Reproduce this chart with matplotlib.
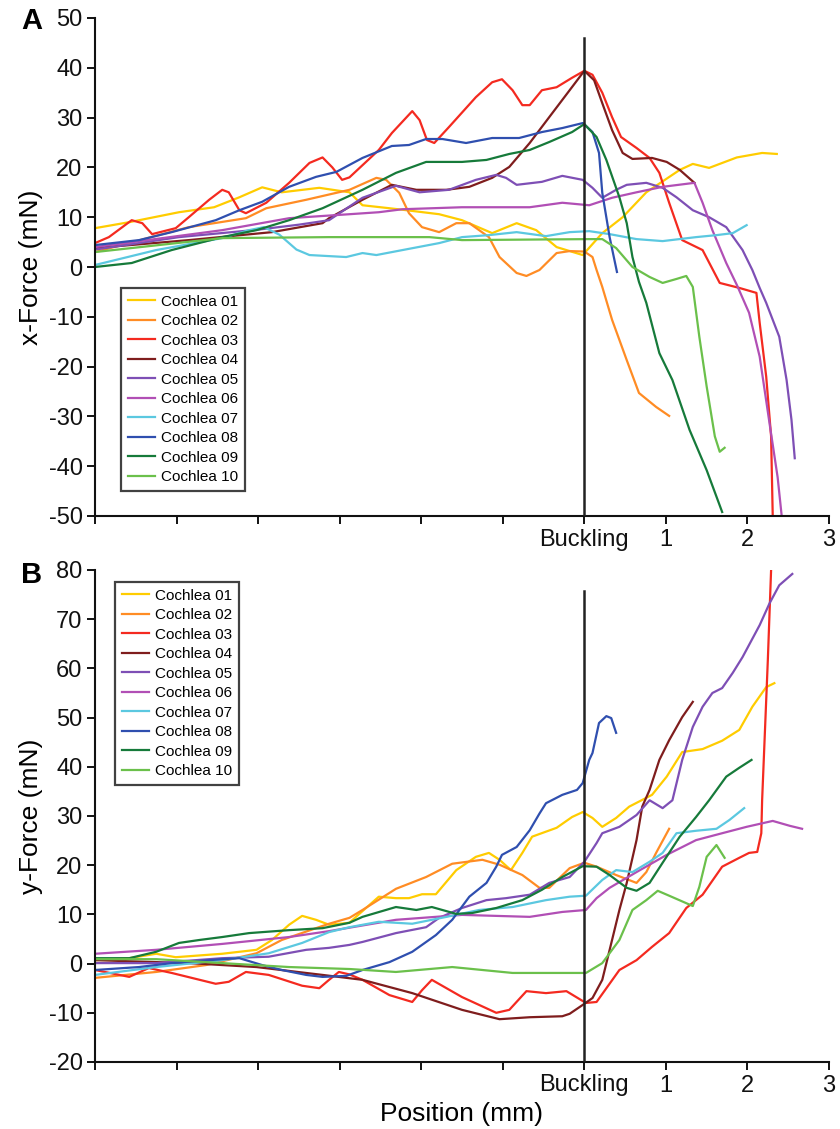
import matplotlib
matplotlib.use('Agg')
import matplotlib.pyplot as plt

plt.rcParams['font.family'] = ['Liberation Sans', 'DejaVu Sans']
plt.rcParams['axes.unicode_minus'] = False

# ---------------- data ----------------
names = ['Cochlea 01', 'Cochlea 02', 'Cochlea 03', 'Cochlea 04', 'Cochlea 05',
         'Cochlea 06', 'Cochlea 07', 'Cochlea 08', 'Cochlea 09', 'Cochlea 10']
colors = ['#FFCC00', '#FF8C24', '#F42A20', '#7F1D1D', '#7E4FB5',
          '#B14FB5', '#5BC8E0', '#2F4FAF', '#167A3A', '#6BC04B']

x_ticks = [-6, -5, -4, -3, -2, -1, 0, 1, 2, 3]
x_ticklabels = ['', '', '', '', '', '', 'Buckling', '1', '2', '3']
yA_ticks = [-50, -40, -30, -20, -10, 0, 10, 20, 30, 40, 50]
yB_ticks = [-20, -10, 0, 10, 20, 30, 40, 50, 60, 70, 80]

# Panel A : x-force
A01_x = [-6.0,-5.58,-4.97,-4.54,-4.23,-3.95,-3.71,-3.25,-2.88,-2.72,-2.39,-2.18,-1.78,-1.50,-1.13,-0.83,-0.59,-0.34,-0.02,0.22,0.47,0.76,1.17,1.33,1.53,1.87,2.18,2.36]
A01_y = [7.8,9,11,12,14,16,15,15.9,15,12.4,11.8,11.4,10.6,9.4,6.8,8.8,7.4,4,2.4,6.8,10,15,19.5,20.7,19.9,22,22.9,22.7]
A02_x = [-6.0,-4.85,-4.15,-3.90,-3.41,-2.88,-2.55,-2.43,-2.27,-2.15,-1.99,-1.78,-1.57,-1.41,-1.17,-1.04,-0.83,-0.71,-0.55,-0.34,-0.18,0,0.10,0.15,0.22,0.34,0.52,0.67,0.88,1.04]
A02_y = [3,8,9.8,11.8,13.5,15.5,17.9,17.5,14.9,10.8,8,7,8.8,8.8,6,2,-1.2,-1.8,-0.6,2.8,3.2,3.1,2,-0.6,-4,-10.6,-18.7,-25.3,-28.1,-29.9]
A03_x = [-6.0,-5.83,-5.55,-5.42,-5.30,-5.01,-4.85,-4.60,-4.44,-4.36,-4.23,-4.15,-3.90,-3.62,-3.37,-3.21,-3.09,-2.97,-2.88,-2.52,-2.36,-2.11,-2.02,-1.93,-1.84,-1.66,-1.33,-1.13,-1.01,-0.88,-0.76,-0.67,-0.52,-0.34,-0.15,0,0.10,0.22,0.34,0.45,0.64,0.80,0.92,1.04,1.20,1.45,1.66,1.90,2.11,2.15,2.23,2.29,2.31]
A03_y = [4.8,6,9.4,8.8,6.6,7.8,10,13.5,15.5,15,11.4,10.8,12.9,16.9,20.9,22,20,17.5,18,23.5,26.9,31.3,29.5,25.5,24.9,28.1,34.1,37.1,37.7,35.5,32.5,32.5,35.5,36.1,38,39.4,38.6,35,30.1,26.1,23.9,21.9,18.9,12.9,5.4,3.4,-3.2,-4.2,-5.2,-11.2,-22,-34,-50]
A04_x = [-6.0,-4.85,-3.83,-3.21,-3.13,-2.72,-2.36,-2.06,-1.69,-1.41,-1.13,-0.92,-0.67,-0.43,-0.18,0,0.12,0.22,0.34,0.47,0.59,0.83,1.01,1.17,1.35]
A04_y = [3.8,5.4,7,8.8,9.8,13.5,16.5,15.5,15.5,16.1,17.9,20.1,24.9,30.1,35.5,39.4,37.5,32.9,27.5,22.9,21.7,21.9,21.1,19.5,16.9]
A05_x = [-6.0,-4.97,-4.0,-3.5,-3.13,-2.72,-2.31,-2.02,-1.66,-1.33,-1.08,-0.96,-0.83,-0.52,-0.27,-0.02,0.10,0.22,0.39,0.52,0.76,0.96,1.13,1.33,1.53,1.74,1.94,2.06,2.15,2.23,2.39,2.48,2.54,2.58]
A05_y = [3.5,6,7.5,8.5,9.4,13.9,16.3,15,15.5,17.5,18.5,17.9,16.5,17.1,18.3,17.5,15.9,13.9,15.5,16.5,16.9,15.9,14,11.4,10,8,3.4,-0.6,-4.2,-7.2,-14,-22.7,-30.7,-38.4]
A06_x = [-6.0,-4.44,-3.62,-2.88,-2.52,-2.23,-1.50,-0.67,-0.27,0.06,0.34,0.64,0.96,1.35,1.45,1.57,1.74,1.87,2.02,2.15,2.27,2.37,2.42]
A06_y = [4,7.4,9.8,10.6,11,11.6,12,12,12.9,12.4,13.9,15,16.1,16.9,12.9,7.4,0.8,-3.6,-9.2,-18,-31.3,-42.2,-50]
A07_x = [-6.0,-5.25,-4.44,-4.11,-3.93,-3.74,-3.53,-3.37,-2.92,-2.72,-2.55,-2.23,-1.78,-1.50,-1.17,-0.83,-0.47,-0.18,0.06,0.31,0.64,0.96,1.37,1.62,1.82,1.99]
A07_y = [0.4,3.4,5.8,7.4,8,6.5,3.5,2.4,2,2.8,2.4,3.4,4.8,6,6.4,7,6.2,7,7.2,6.6,5.6,5.2,6,6.4,6.8,8.4]
A08_x = [-6.0,-5.46,-5.06,-4.52,-4.23,-3.95,-3.62,-3.29,-3.04,-2.72,-2.36,-2.15,-1.94,-1.74,-1.45,-1.13,-0.80,-0.52,-0.27,-0.02,0.10,0.18,0.22,0.31,0.40]
A08_y = [4.4,5.4,7,9.4,11.4,13.1,16.1,18.1,19.1,21.9,24.3,24.5,25.7,25.7,24.9,25.9,25.9,27.1,27.9,28.9,27.1,22.9,14.9,6,-1]
A09_x = [-6.0,-5.55,-5.06,-4.44,-4.02,-3.62,-3.21,-3.13,-2.72,-2.31,-1.94,-1.50,-1.20,-0.92,-0.67,-0.43,-0.15,0,0.15,0.27,0.43,0.52,0.59,0.67,0.76,0.92,1.08,1.29,1.50,1.69]
A09_y = [0,0.8,3.4,6,7.4,9.4,11.8,12.4,15.5,18.9,21.1,21.1,21.5,22.7,23.5,25.1,27.1,28.7,26.1,21.5,14,8.8,2,-3,-7.2,-17.3,-22.7,-32.7,-40.8,-49.2]
A10_x = [-6.0,-4.44,-3.13,-1.90,-1.50,0.06,0.22,0.39,0.59,0.80,0.96,1.13,1.25,1.33,1.41,1.50,1.60,1.66,1.72]
A10_y = [3,5.8,6,6,5.4,5.6,5.6,3.8,0,-2,-3.2,-2.4,-1.8,-4,-14,-24,-34,-37.1,-36.3]

# Panel B : y-force
B01_x = [-6.0,-5.58,-5.25,-5.01,-4.44,-4.02,-3.83,-3.62,-3.46,-3.29,-3.13,-2.88,-2.80,-2.52,-2.31,-2.15,-1.99,-1.82,-1.57,-1.33,-1.17,-1.04,-0.90,-0.76,-0.64,-0.34,-0.15,-0.02,0.10,0.22,0.39,0.55,0.83,1.01,1.20,1.45,1.69,1.90,2.06,2.23,2.33]
B01_y = [0.7,1.1,2,1.3,2,2.8,4.8,7.9,9.7,8.9,7.9,8.3,9.5,13.6,13.3,13.3,14.1,14.1,19,21.7,22.5,21.1,19,22.5,25.8,27.6,29.8,30.8,29.6,27.8,29.6,31.9,34.3,38,43,43.6,45.3,47.5,52.2,56.2,57]
B02_x = [-6.0,-5.25,-4.64,-4.02,-3.71,-3.29,-3.13,-2.88,-2.72,-2.31,-1.94,-1.62,-1.25,-1.04,-0.76,-0.55,-0.43,-0.18,0,0.15,0.39,0.64,0.76,0.88,1.04]
B02_y = [-2.9,-1.7,-0.3,2.1,4.8,7.2,8.1,9.3,10.9,15.2,17.6,20.3,21.1,20.1,18,15.4,15.4,19.4,20.5,19.7,18,16.4,18.6,22.5,27.4]
B03_x = [-6.0,-5.58,-5.34,-5.06,-4.52,-4.36,-4.15,-3.87,-3.46,-3.25,-3.13,-3.01,-2.88,-2.72,-2.39,-2.11,-1.99,-1.87,-1.50,-1.08,-0.92,-0.71,-0.47,-0.22,0.02,0.15,0.43,0.64,0.83,1.04,1.25,1.45,1.69,1.90,2.02,2.12,2.17,2.18,2.25,2.29]
B03_y = [-1.3,-2.7,-0.9,-1.9,-4.1,-3.7,-1.7,-2.3,-4.5,-5,-3.3,-1.7,-2.2,-3.3,-6.4,-7.8,-5.4,-3.3,-6.8,-10,-9.4,-5.6,-6,-5.6,-8,-7.8,-1.3,0.7,3.4,6.2,11.3,14,19.7,21.5,22.5,22.7,26.5,33.2,61.7,80]
B04_x = [-6.0,-4.85,-4.02,-3.21,-2.72,-2.11,-1.50,-1.04,-0.67,-0.27,-0.18,-0.02,0.10,0.22,0.34,0.43,0.52,0.64,0.71,0.80,0.92,1.04,1.20,1.33]
B04_y = [0.7,0.1,-0.7,-2.3,-3.3,-6,-9.4,-11.3,-10.9,-10.7,-10.2,-8.4,-7,-3.3,4.8,10.9,16.4,25.1,31.9,35.3,41.4,45.4,50.1,53.2]
B05_x = [-6.0,-5.25,-4.44,-3.87,-3.41,-3.13,-2.88,-2.72,-2.31,-1.94,-1.78,-1.50,-1.20,-0.96,-0.67,-0.43,-0.18,0,0.15,0.22,0.43,0.64,0.80,0.96,1.08,1.20,1.33,1.45,1.57,1.69,1.82,1.94,2.15,2.27,2.39,2.55]
B05_y = [0.1,0.1,1.1,1.4,2.8,3.2,3.8,4.4,6.2,7.4,9.3,11.3,12.9,13.3,14,16.4,17.6,20.7,24.5,26.5,27.8,30.2,33.2,31.6,33.2,41.4,48.1,52.2,55,56,59.1,62.3,68.8,73.2,76.9,79.2]
B06_x = [-6.0,-5.25,-4.44,-3.62,-3.13,-2.31,-1.50,-0.67,-0.27,0.02,0.15,0.31,0.64,1.01,1.37,1.69,1.99,2.31,2.52,2.67]
B06_y = [2,2.8,4,5.4,6.6,8.9,9.9,9.5,10.5,10.9,13.3,15.4,18.6,22.1,25.1,26.5,27.8,29,28,27.4]
B07_x = [-6.0,-5.25,-4.44,-3.87,-3.46,-3.13,-2.88,-2.52,-2.11,-1.69,-1.29,-0.88,-0.47,-0.18,0.02,0.22,0.39,0.59,0.80,0.96,1.13,1.37,1.62,1.78,1.96]
B07_y = [-2.3,-0.7,0.7,2.1,4.2,6.4,7.4,8.5,8.1,9.5,10.9,11.5,12.9,13.6,13.8,17,19,18.6,20.7,22.5,26.5,27,27.4,29.2,31.6]
B08_x = [-6.0,-5.46,-5.06,-4.44,-4.23,-3.95,-3.71,-3.41,-3.21,-2.92,-2.72,-2.39,-2.11,-1.82,-1.62,-1.41,-1.20,-1.08,-1.01,-0.83,-0.67,-0.55,-0.47,-0.27,-0.09,-0.02,0.06,0.10,0.18,0.27,0.33,0.39]
B08_y = [-1.3,-0.7,0.1,0.9,1.1,-0.3,-1.3,-2.3,-2.7,-2.5,-1.3,0.3,2.4,5.8,8.9,13.6,16.4,19.7,22.1,23.7,27.1,30.5,32.6,34.3,35.3,36.7,41.4,42.8,48.9,50.3,49.9,46.9]
B09_x = [-6.0,-5.58,-5.25,-4.97,-4.72,-4.44,-4.11,-3.62,-3.21,-2.88,-2.72,-2.31,-2.06,-1.87,-1.57,-1.37,-1.08,-0.76,-0.52,-0.27,-0.02,0.15,0.31,0.52,0.64,0.80,0.96,1.17,1.37,1.53,1.74,1.90,2.05]
B09_y = [1.1,1.1,2.4,4.2,4.8,5.4,6.2,6.8,7.2,8.3,9.5,11.5,10.9,11.5,10.1,10.3,11.3,12.9,15,17.6,19.8,19.7,18,15.4,14.8,16.4,20.5,25.8,29.8,33.2,38,39.8,41.4]
B10_x = [-6.0,-5.25,-4.44,-3.62,-2.88,-2.31,-1.62,-0.88,0.02,0.22,0.43,0.59,0.76,0.90,1.04,1.33,1.41,1.50,1.62,1.72]
B10_y = [0.9,0.9,0.1,-0.7,-1.1,-1.7,-0.7,-1.9,-1.9,0.1,4.8,10.9,12.9,14.8,13.8,11.7,15.6,21.7,24.1,21.5]

A_series = [(A01_x, A01_y), (A02_x, A02_y), (A03_x, A03_y), (A04_x, A04_y), (A05_x, A05_y),
            (A06_x, A06_y), (A07_x, A07_y), (A08_x, A08_y), (A09_x, A09_y), (A10_x, A10_y)]
B_series = [(B01_x, B01_y), (B02_x, B02_y), (B03_x, B03_y), (B04_x, B04_y), (B05_x, B05_y),
            (B06_x, B06_y), (B07_x, B07_y), (B08_x, B08_y), (B09_x, B09_y), (B10_x, B10_y)]

buckling_top_A = 46
buckling_top_B = 75.7

# ---------------- figure ----------------
W, H = 840, 1129
fig = plt.figure(figsize=(W / 100, H / 100), dpi=100)
axA = fig.add_axes([95 / W, 1 - 516 / H, 734 / W, 498 / H])
axB = fig.add_axes([95 / W, 1 - 1062 / H, 734 / W, 492 / H])


def style(ax, ylim, yticks, ylabel):
    ax.set_xlim(-6, 3)
    ax.set_ylim(*ylim)
    for s in ['top', 'right']:
        ax.spines[s].set_visible(False)
    for s in ['left', 'bottom']:
        ax.spines[s].set_linewidth(1.5)
        ax.spines[s].set_color('#111111')
    ax.set_xticks(x_ticks)
    ax.set_xticklabels(x_ticklabels)
    ax.set_yticks(yticks)
    ax.set_yticklabels([str(v) for v in yticks])
    ax.tick_params(direction='out', length=6, width=1.4, labelsize=17, pad=3,
                   colors='#111111')
    ax.set_ylabel(ylabel, fontsize=19, labelpad=4)


for (x, y), c, n in zip(A_series, colors, names):
    axA.plot(x, y, color=c, lw=1.6, label=n, solid_joinstyle='round')
axA.plot([0, 0], [-50, buckling_top_A], color='#222222', lw=1.8, zorder=5)
style(axA, (-50, 50), yA_ticks, 'x-Force (mN)')

for (x, y), c, n in zip(B_series, colors, names):
    axB.plot(x, y, color=c, lw=1.6, label=n, solid_joinstyle='round')
axB.plot([0, 0], [-20, buckling_top_B], color='#222222', lw=1.8, zorder=5)
style(axB, (-20, 80), yB_ticks, 'y-Force (mN)')
axB.set_xlabel('Position (mm)', fontsize=19, labelpad=4)

for ax, anchor in [(axA, (0.035, 0.458)), (axB, (0.027, 0.976))]:
    leg = ax.legend(loc='upper left', bbox_to_anchor=anchor, frameon=True,
                    fancybox=False, edgecolor='#111111', fontsize=11,
                    handlelength=1.8, labelspacing=0.36, borderpad=0.45,
                    handletextpad=0.4, borderaxespad=0)
    leg.get_frame().set_linewidth(1.6)
    for line in leg.get_lines():
        line.set_linewidth(1.6)

fig.text(32 / W, 1 - 21 / H, 'A', fontsize=21, fontweight='bold', ha='center', va='center')
fig.text(32 / W, 1 - 575 / H, 'B', fontsize=21, fontweight='bold', ha='center', va='center')

fig.savefig('out.png', dpi=100)
